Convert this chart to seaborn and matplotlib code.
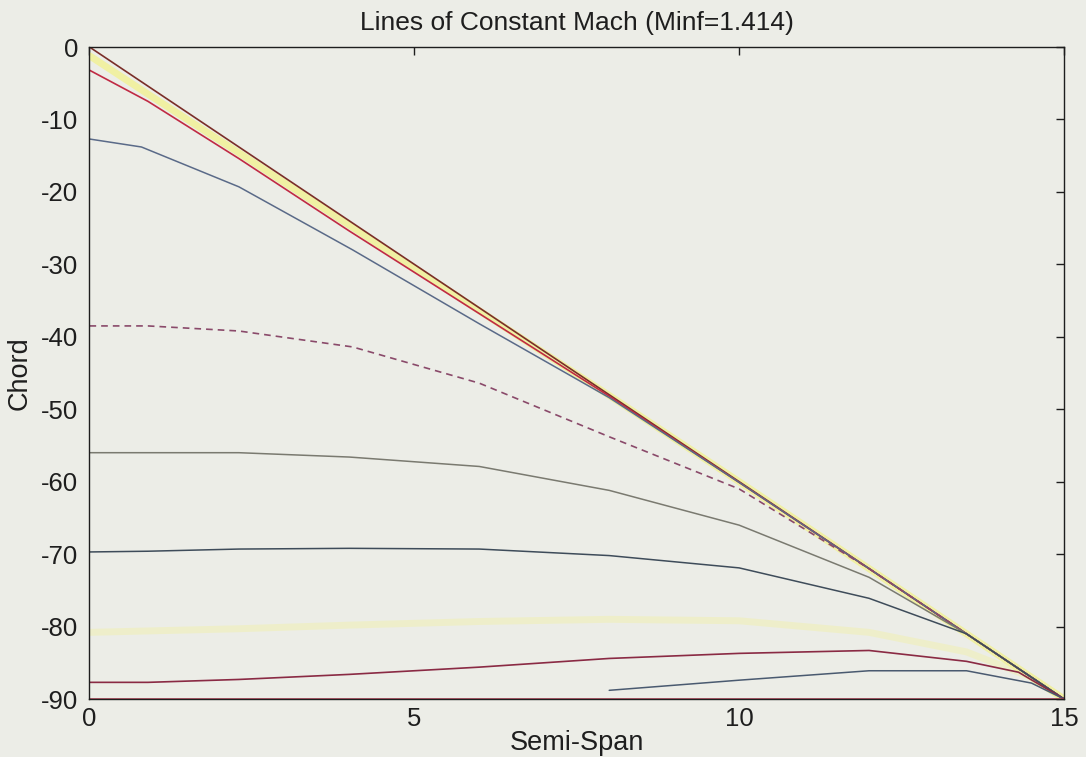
import matplotlib
matplotlib.use("Agg")
import matplotlib.pyplot as plt
import seaborn as sns
import pandas as pd

sns.set_theme(style="white")
plt.rcParams['font.family'] = ['Liberation Sans', 'DejaVu Sans']

title = "Lines of Constant Mach (Minf=1.414)"
xlabel = "Semi-Span"
ylabel = "Chord"
xticks = [0, 5, 10, 15]
yticks = [0, -10, -20, -30, -40, -50, -60, -70, -80, -90]

# leading edge
le_x = [0, 15]
le_y = [0, -90]
# faint yellow band near leading edge
yel1_x = [0, 0.9, 2.3, 4, 6, 8, 10, 12, 13.5, 15]
yel1_y = [-1.2, -6.5, -14.6, -24.6, -36.4, -48.1, -60.0, -72.0, -81.0, -90.0]
# crimson line
red1_x = [0, 0.9, 2.3, 4, 6, 8, 10, 12, 13.5, 15]
red1_y = [-3.2, -7.5, -15.4, -25.4, -36.8, -48.2, -60.1, -72.0, -81.0, -90.0]
# blue-gray line
blue_x = [0, 0.8, 2.3, 4.05, 6, 8, 10, 12, 13.5, 15]
blue_y = [-12.7, -13.8, -19.3, -28.0, -38.2, -48.4, -60.1, -72.0, -81.0, -90.0]
# dashed line
dash_x = [0, 0.9, 2.3, 4.05, 6, 8, 10, 12, 13.5, 15]
dash_y = [-38.5, -38.5, -39.2, -41.4, -46.4, -53.8, -61.0, -72.0, -81.0, -90.0]
# gray line
gray_x = [0, 0.9, 2.3, 4, 6, 8, 10, 12, 13.5, 15]
gray_y = [-56.0, -56.0, -56.0, -56.6, -57.9, -61.2, -66.0, -73.2, -81.0, -90.0]
# dark slate line
slate_x = [0, 0.9, 2.3, 4, 6, 8, 10, 12, 13.5, 15]
slate_y = [-69.7, -69.6, -69.3, -69.2, -69.3, -70.2, -71.9, -76.1, -81.0, -90.0]
# faint yellow line near -80
yel2_x = [0, 2.3, 4, 6, 8, 10, 12, 13.5, 14.5, 15]
yel2_y = [-80.8, -80.3, -79.8, -79.3, -79.0, -79.2, -80.8, -83.5, -87.0, -90.0]
# dark red line near -87
red2_x = [0, 0.9, 2.3, 4, 6, 8, 10, 12, 13.5, 14.3, 15]
red2_y = [-87.7, -87.7, -87.3, -86.6, -85.6, -84.4, -83.7, -83.3, -84.8, -86.3, -90.0]
# bottom slate line
slate2_x = [8, 10, 12, 13.5, 14.5, 15]
slate2_y = [-88.8, -87.4, -86.1, -86.1, -87.8, -90.0]
# root and trailing edge
root_x = [0, 0]
root_y = [0, -90]
te_x = [0, 15]
te_y = [-90, -90]

bg = "#ecede7"
txt = "#1e1e1e"
fig = plt.figure(figsize=(10.86, 7.57), dpi=100, facecolor=bg)
ax = fig.add_axes([0.0824, 0.0766, 0.8973, 0.8613])
ax.set_facecolor(bg)

def draw(x, y, color, lw=1.1, ls="-", alpha=1.0):
    df = pd.DataFrame({"x": x, "y": y})
    sns.lineplot(data=df, x="x", y="y", ax=ax, color=color, lw=lw,
                 linestyle=ls, alpha=alpha, sort=False, estimator=None)

draw(yel1_x, yel1_y, "#f2f28c", lw=5.0, alpha=0.75)
draw(yel2_x, yel2_y, "#f2f2a0", lw=5.0, alpha=0.4)
draw(le_x, le_y, "#7a2e28", lw=1.2)
draw(red1_x, red1_y, "#c02a44", lw=1.2)
draw(blue_x, blue_y, "#5a6a88", lw=1.1)
draw(dash_x, dash_y, "#8a4a6a", lw=1.2, ls=(0, (4, 3)))
draw(gray_x, gray_y, "#7a7a70", lw=1.1)
draw(slate_x, slate_y, "#3e4c5a", lw=1.1)
draw(red2_x, red2_y, "#8a2a44", lw=1.2)
draw(slate2_x, slate2_y, "#4a5a70", lw=1.1)
draw(root_x, root_y, "#c02a44", lw=1.2)
draw(te_x, te_y, "#b04458", lw=1.2)

ax.set_xlim(0, 15)
ax.set_ylim(-90, 0)
ax.set_xticks(xticks)
ax.set_yticks(yticks)
ax.set_xticklabels([str(v) for v in xticks])
ax.set_yticklabels([str(v) for v in yticks])
ax.tick_params(direction="in", length=6, width=1, top=True, right=True,
               labelsize=18.5, colors=txt)
ax.tick_params(axis="x", pad=6)
ax.tick_params(axis="y", pad=8)
for s in ax.spines.values():
    s.set_visible(True)
    s.set_color(txt)
    s.set_linewidth(1.0)
ax.set_xlabel(xlabel, fontsize=19.5, labelpad=-1, color=txt)
ax.set_ylabel(ylabel, fontsize=19.5, labelpad=6, color=txt)
ax.set_title(title, fontsize=19, pad=12, color=txt)

fig.savefig("out.png", dpi=100, facecolor=bg)
